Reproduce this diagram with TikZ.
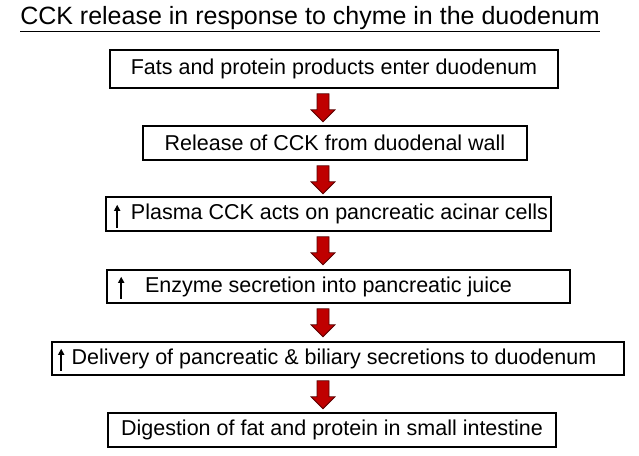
\documentclass[tikz,border=0pt]{standalone}
\usepackage{fontspec}
\setmainfont{Liberation Sans}
\usetikzlibrary{arrows.meta}
\begin{document}
\begin{tikzpicture}[x=1pt,y=-1pt,
  box/.style={draw=black,line width=1.6pt,inner sep=0pt,font=\fontsize{21.5}{23}\selectfont},
  blk/.style={fill=red!75!black,draw=red!35!black,line width=0.8pt},
  up/.style={line width=1.6pt,-{Triangle[length=6pt,width=6pt]}}]
\useasboundingbox (0,0) rectangle (639,455);
\node[font=\fontsize{25}{27}\selectfont] (t) at (310,19) {\underline{CCK release in response to chyme in the duodenum}};
\node[box,minimum width=448pt,minimum height=38pt] (b1) at (334,69) {Fats and protein products enter duodenum};
\node[box,minimum width=384pt,minimum height=34pt] (b2) at (335,143) {Release of CCK from duodenal wall};
\node[box,minimum width=445pt,minimum height=34pt] (b3) at (328.5,214) {\hspace*{22pt}Plasma CCK acts on pancreatic acinar cells};
\node[box,minimum width=463pt,minimum height=33pt] (b4) at (338.5,286.5) {\hspace*{-20pt}Enzyme secretion into pancreatic juice};
\node[box,minimum width=572pt,minimum height=33pt] (b5) at (338,358.5) {\hspace*{-8pt}Delivery of pancreatic \& biliary secretions to duodenum};
\node[box,minimum width=448pt,minimum height=34pt] (b6) at (332,430) {Digestion of fat and protein in small intestine};
\foreach \a in {b1,b2,b3,b4,b5}{
  \path[blk] (\a.south -| 317,0) ++(0,5) -- ++(12,0) -- ++(0,16) -- ++(6,0) -- ++(-12,12) -- ++(-12,-12) -- ++(6,0) -- cycle;
}
\draw[up] (b3.south west) ++(12,-4) -- ++(0,-23);
\draw[up] (b4.south west) ++(15,-5) -- ++(0,-22);
\draw[up] (b5.south west) ++(10,-5) -- ++(0,-22);
\end{tikzpicture}
\end{document}
